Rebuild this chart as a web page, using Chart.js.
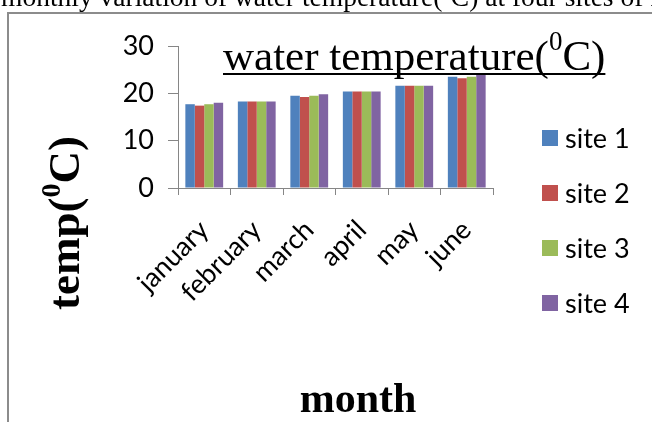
<!DOCTYPE html>
<html>
<head>
<meta charset="utf-8">
<script src="https://cdn.jsdelivr.net/npm/chart.js@4.4.1/dist/chart.umd.min.js"></script>
<style>
  html, body { margin: 0; padding: 0; background: #fff; overflow: hidden; }
  #wrap { position: relative; width: 652px; height: 422px; }
</style>
</head>
<body>
<div id="wrap"><canvas id="c" width="652" height="422"></canvas></div>
<script>
// Monthly water temperature (°C) at four sampling sites
const months = ['january', 'february', 'march', 'april', 'may', 'june'];
const site1 = [17.7, 18.3, 19.5, 20.4, 21.6, 23.5];
const site2 = [17.4, 18.3, 19.2, 20.4, 21.6, 23.2];
const site3 = [17.7, 18.3, 19.5, 20.4, 21.6, 23.5];
const site4 = [18.0, 18.3, 19.8, 20.4, 21.6, 24.0];
const siteNames = ['site 1', 'site 2', 'site 3', 'site 4'];
const yTickValues = [0, 10, 20, 30];

const siteColors = ['#4F81BD', '#C0504D', '#9BBB59', '#8064A2'];
const axisColor = '#868686';
const sansFont = 'Lato, "Open Sans", sans-serif';
const serifFont = '"Liberation Serif", "Times New Roman", serif';

// Draw a run of text pieces (some raised as superscripts) starting at x
function measureRuns(ctx, runs) {
  let w = 0;
  for (const r of runs) { ctx.font = r.font; w += ctx.measureText(r.text).width; }
  return w;
}
function drawRuns(ctx, x, y, runs) {
  for (const r of runs) {
    ctx.font = r.font;
    ctx.fillText(r.text, x, y - (r.rise || 0));
    x += ctx.measureText(r.text).width;
  }
  return x;
}

const decorPlugin = {
  id: 'decor',
  beforeDraw(chart) {
    const ctx = chart.ctx;
    ctx.save();
    ctx.fillStyle = '#fff';
    ctx.fillRect(0, 0, chart.width, chart.height);
    ctx.restore();
  },
  afterDraw(chart) {
    const ctx = chart.ctx;
    ctx.save();
    ctx.fillStyle = '#000';
    ctx.textBaseline = 'alphabetic';
    ctx.textAlign = 'left';

    // caption line running across the top
    drawRuns(ctx, 1, 6, [
      { text: 'monthly variation of water temperature(', font: '27.5px ' + serifFont },
      { text: '0', font: '17px ' + serifFont, rise: 11 },
      { text: 'C) at four sites of L', font: '27.5px ' + serifFont }
    ]);

    // frame
    ctx.strokeStyle = '#8c8c8c';
    ctx.lineWidth = 2;
    ctx.beginPath();
    ctx.moveTo(8, chart.height);
    ctx.lineTo(8, 13);
    ctx.lineTo(chart.width, 13);
    ctx.stroke();

    // chart title, underlined
    const titleRuns = [
      { text: 'water temperature(', font: '43px ' + serifFont },
      { text: '0', font: '27px ' + serifFont, rise: 20 },
      { text: 'C)', font: '43px ' + serifFont }
    ];
    const tx = 223, ty = 70;
    const tEnd = drawRuns(ctx, tx, ty, titleRuns);
    ctx.fillRect(tx, 73, tEnd - tx, 2);

    // y axis title (rotated)
    const yRuns = [
      { text: 'temp(', font: 'bold 45px ' + serifFont },
      { text: '0', font: 'bold 28px ' + serifFont, rise: 19 },
      { text: 'C)', font: 'bold 45px ' + serifFont }
    ];
    const yw = measureRuns(ctx, yRuns);
    ctx.save();
    ctx.translate(79, 223);
    ctx.rotate(-Math.PI / 2);
    drawRuns(ctx, -yw / 2, 0, yRuns);
    ctx.restore();

    // x axis title
    ctx.font = 'bold 42px ' + serifFont;
    ctx.textAlign = 'center';
    ctx.fillText('month', 358, 412);

    // legend
    ctx.textAlign = 'left';
    ctx.textBaseline = 'middle';
    ctx.font = '27px ' + sansFont;
    chart.data.datasets.forEach((ds, i) => {
      const cy = 138 + i * 55;
      ctx.fillStyle = ds.backgroundColor;
      ctx.fillRect(542, cy - 8, 16, 16);
      ctx.fillStyle = '#000';
      ctx.fillText(ds.label, 565, cy + 1);
    });
    ctx.restore();
  }
};

const seriesValues = [site1, site2, site3, site4];

new Chart(document.getElementById('c'), {
  type: 'bar',
  data: {
    labels: months,
    datasets: seriesValues.map((vals, i) => ({
      label: siteNames[i],
      data: vals,
      backgroundColor: siteColors[i],
      borderWidth: 0,
      categoryPercentage: 0.72,
      barPercentage: 1.0
    }))
  },
  options: {
    responsive: false,
    animation: false,
    devicePixelRatio: 1,
    layout: { padding: { top: 46, right: 159, left: 0, bottom: 0 } },
    plugins: {
      legend: { display: false },
      title: { display: false },
      tooltip: { enabled: false }
    },
    scales: {
      x: {
        grid: { display: true, drawOnChartArea: false, offset: true, tickLength: 7, color: axisColor },
        border: { color: axisColor, width: 1 },
        ticks: {
          color: '#000',
          font: { family: sansFont, size: 27 },
          minRotation: 45,
          maxRotation: 45,
          padding: 19,
          autoSkip: false
        },
        afterFit(scale) { scale.height = 234; }
      },
      y: {
        min: 0,
        max: 30,
        afterBuildTicks(scale) { scale.ticks = yTickValues.map(v => ({ value: v })); },
        grid: { display: true, drawOnChartArea: false, tickLength: 10, color: axisColor },
        border: { color: axisColor, width: 1 },
        ticks: {
          color: '#000',
          font: { family: sansFont, size: 27 },
          padding: 14
        },
        afterFit(scale) { scale.width = 178; }
      }
    }
  },
  plugins: [decorPlugin]
});
</script>
</body>
</html>
